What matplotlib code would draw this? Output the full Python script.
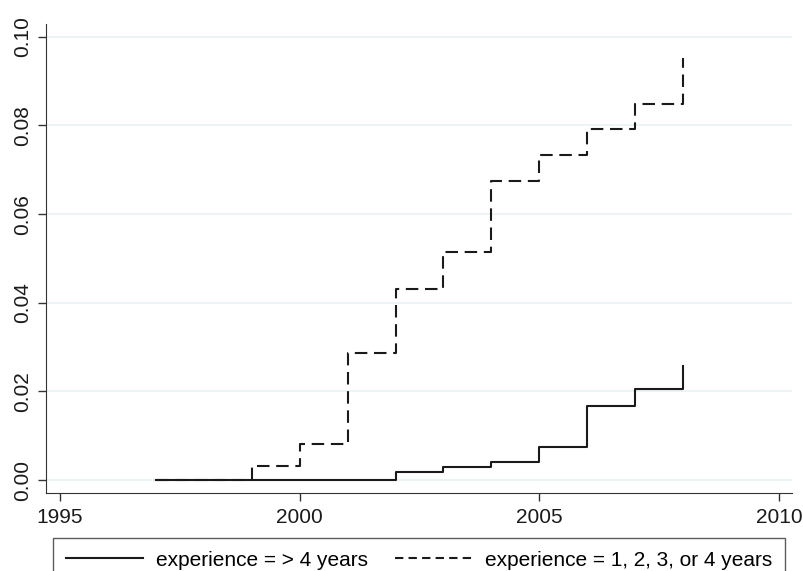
import matplotlib
matplotlib.use('Agg')
import matplotlib.pyplot as plt

# step points (year at which the estimate changes) and levels
years = [1997, 1999, 2000, 2001, 2002, 2003, 2004, 2005, 2006, 2007, 2008, 2008]
exp_gt4 = [0.0, 0.0, 0.0, 0.0, 0.0019, 0.0030, 0.0040, 0.0075, 0.0166, 0.0206, 0.0206, 0.0258]
exp_1to4 = [0.0, 0.0032, 0.0081, 0.0287, 0.0431, 0.0515, 0.0675, 0.0733, 0.0792, 0.0849, 0.0849, 0.0952]

xticks = [1995, 2000, 2005, 2010]
yticks = [0.00, 0.02, 0.04, 0.06, 0.08, 0.10]

plt.rcParams['font.family'] = ['Liberation Sans', 'DejaVu Sans']

fig = plt.figure(figsize=(8.04, 5.71), dpi=100)
ax = fig.add_axes([46 / 804, 1 - 493 / 571, 746 / 804, 469 / 571])

for y in yticks:
    ax.axhline(y, color='#eaf2f3', lw=1.2, zorder=0)

ax.plot(years, exp_gt4, drawstyle='steps-post', color='#1a1a1a', lw=1.5,
        label='experience = > 4 years')
ax.plot(years, exp_1to4, drawstyle='steps-post', color='#1a1a1a', lw=1.5,
        dashes=(6, 3.2), label='experience = 1, 2, 3, or 4 years')

ax.set_xlim(1994.71, 2010.27)
ax.set_ylim(-0.00293, 0.1029)
ax.set_xticks(xticks)
ax.set_yticks(yticks)
ax.set_yticklabels(['%.2f' % v for v in yticks], rotation=90, va='center')
ax.tick_params(labelsize=15, length=6, width=1, color='#333333',
               labelcolor='#1a1a1a')
ax.tick_params(axis='x', pad=5)
ax.tick_params(axis='y', pad=4)

for s in ['top', 'right']:
    ax.spines[s].set_visible(False)
for s in ['left', 'bottom']:
    ax.spines[s].set_color('#333333')

leg = fig.legend(loc='upper left', bbox_to_anchor=(53 / 804, 1 - 538 / 571),
                 ncol=2, fontsize=15, frameon=True, fancybox=False,
                 handlelength=3.7, handletextpad=0.63, borderaxespad=0,
                 columnspacing=1.3, borderpad=0.6)
leg.get_frame().set_edgecolor('#333333')
leg.get_frame().set_linewidth(1)
# legend handles use a slightly finer dash than the plot lines
leg.get_lines()[1].set_dashes((4, 2.5))

plt.savefig('out.png', dpi=100)
plt.close()
